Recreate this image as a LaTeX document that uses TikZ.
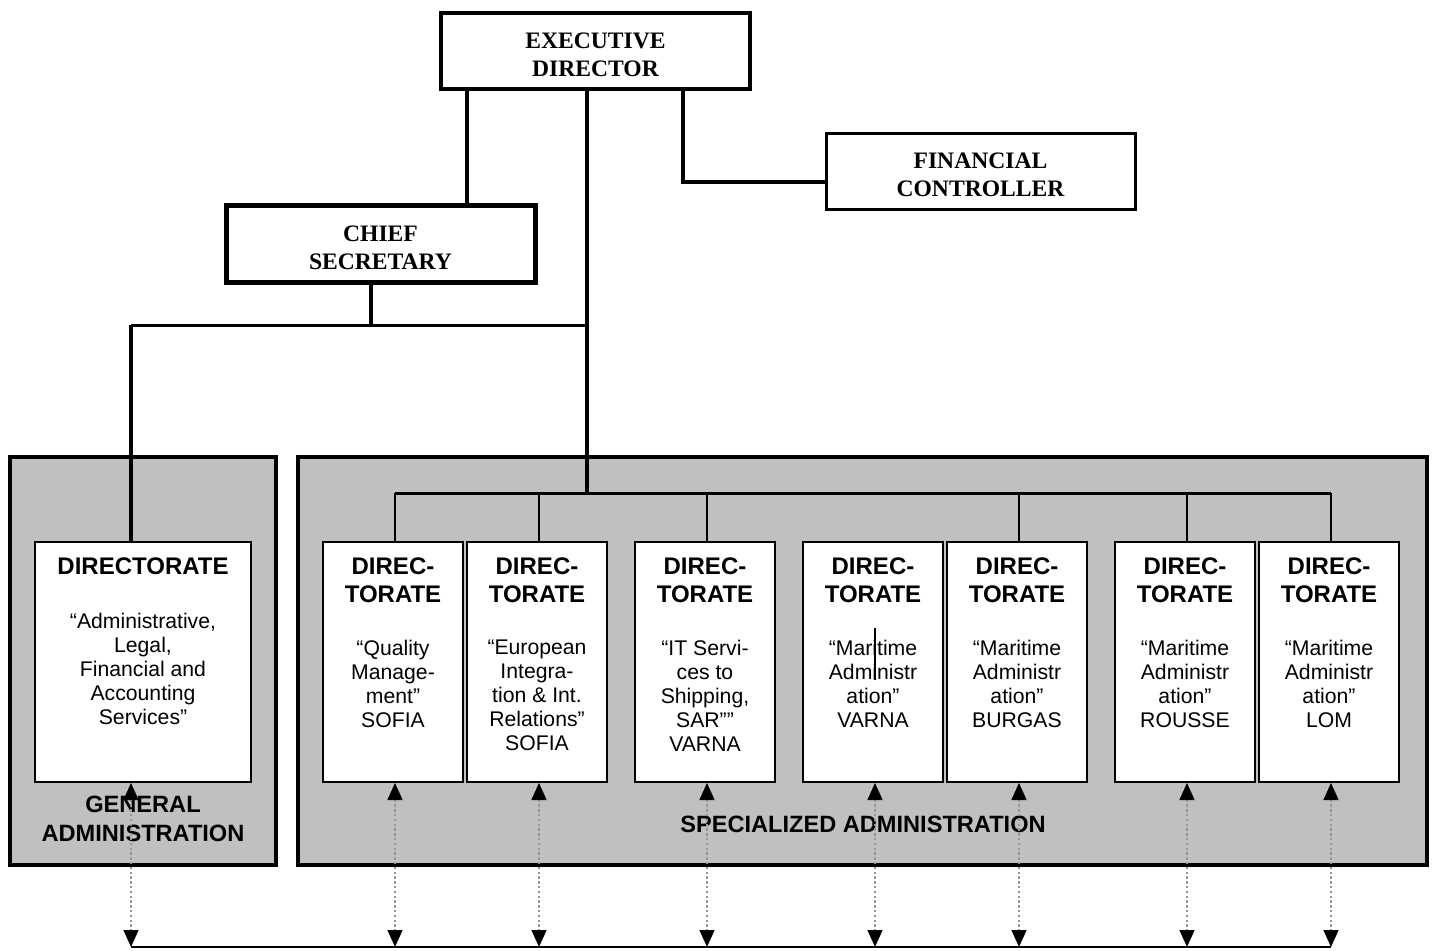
\documentclass[tikz,border=0pt]{standalone}
\usepackage{fontspec}
\setmainfont{Liberation Serif}
\newfontfamily\arialfont{Liberation Sans}
\usetikzlibrary{arrows.meta,calc}
\definecolor{boxgray}{RGB}{192,192,192}
\definecolor{dotgray}{RGB}{150,150,150}
\tikzset{
  topbox/.style={draw=black, fill=white, minimum width=154.5pt, minimum height=38pt, inner sep=0pt},
  toptext/.style={align=center, inner sep=0pt, font=\fontsize{11.8}{14}\selectfont\bfseries},
  graybox/.style={draw=black, fill=boxgray, line width=2.2pt, inner sep=0pt},
  dirbox/.style={draw=black, line width=1pt, fill=white, minimum width=70pt, minimum height=120pt, inner sep=0pt},
  hdr/.style={font=\arialfont\fontsize{12}{14}\selectfont\bfseries, align=center, anchor=north, inner sep=0pt},
  bdy/.style={font=\arialfont\fontsize{10.6}{12}\selectfont, align=center, anchor=north, inner sep=0pt},
  admlabel/.style={font=\arialfont\fontsize{11.8}{14.5}\selectfont\bfseries, align=center, inner sep=0pt},
  thickline/.style={line width=2pt},
  midline/.style={line width=1.5pt},
  dropline/.style={line width=0.8pt},
  dotarrow/.style={draw=dotgray, line width=0.7pt, dash pattern=on 1.2pt off 1.2pt,
    {Triangle[width=7.5pt,length=8.5pt,black]}-{Triangle[width=7.5pt,length=8.5pt,black]}},
}
\begin{document}
\begin{tikzpicture}[x=0.5pt,y=-0.5pt]
\useasboundingbox (0,0) rectangle (1432,950);

% gray administration areas
\node[graybox, minimum width=133pt, minimum height=204pt] (gen) at (143,661) {};
\node[graybox, minimum width=564.5pt, minimum height=204pt] (spec) at (862.5,661) {};
\node[admlabel] (genlbl) at (143,818.5) {GENERAL\\ADMINISTRATION};
\node[admlabel] (speclbl) at (863,824) {SPECIALIZED ADMINISTRATION};

% top boxes
\node[topbox, line width=2pt] (ed) at (595.5,51) {};
\node[topbox, line width=2.5pt, minimum height=38.5pt] (cs) at (380.5,243.5) {};
\node[topbox, line width=1.5pt] (fc) at (980.5,171) {};
\node[toptext] (edt) at ([yshift=-2pt]ed.center) {EXECUTIVE\\DIRECTOR};
\node[toptext] (cst) at ([yshift=-2pt]cs.center) {CHIEF\\SECRETARY};
\node[toptext] (fct) at ([yshift=-2pt]fc.center) {FINANCIAL\\CONTROLLER};

% directorate boxes
\node[dirbox, minimum width=108pt] (gd) at (143,662) {};
\node[dirbox] (q)  at (393,662) {};
\node[dirbox] (eu) at (537,662) {};
\node[dirbox] (it) at (705,662) {};
\node[dirbox] (mv) at (873,662) {};
\node[dirbox] (mb) at (1017,662) {};
\node[dirbox] (mr) at (1185,662) {};
\node[dirbox] (ml) at (1329,662) {};

% headers
\node[hdr] (gdh) at ([yshift=-8.2pt]gd.north) {DIRECTORATE};
\foreach \n in {q,eu,it,mv,mb,mr,ml}{
  \node[hdr] (\n h) at ([yshift=-8.2pt]\n.north) {DIREC-\\TORATE};
}
% bodies
\node[bdy] (gdb) at ([yshift=-35.7pt]gd.north) {“Administrative,\\Legal,\\Financial and\\Accounting\\Services”};
\node[bdy] (qb)  at ([yshift=-49.2pt]q.north)  {“Quality\\Manage-\\ment”\\SOFIA};
\node[bdy] (eub) at ([yshift=-49.2pt]eu.north) {“European\\Integra-\\tion \& Int.\\Relations”\\SOFIA};
\node[bdy] (itb) at ([yshift=-49.2pt]it.north) {“IT Servi-\\ces to\\Shipping,\\SAR””\\VARNA};
\node[bdy] (mvb) at ([yshift=-49.2pt]mv.north) {“Maritime\\Administr\\ation”\\VARNA};
\node[bdy] (mbb) at ([yshift=-49.2pt]mb.north) {“Maritime\\Administr\\ation”\\BURGAS};
\node[bdy] (mrb) at ([yshift=-49.2pt]mr.north) {“Maritime\\Administr\\ation”\\ROUSSE};
\node[bdy] (mlb) at ([yshift=-49.2pt]ml.north) {“Maritime\\Administr\\ation”\\LOM};
% stray vertical mark in the VARNA maritime box
\coordinate (mk1) at (875,628);
\coordinate (mk2) at (875,680);
\draw[line width=0.8pt] (mk1) -- (mk2);

% upper connectors
\coordinate (j) at (587,325);
\coordinate (g) at (131,325);
\coordinate (bar) at (587,493);
\coordinate (barL) at (395,493);
\coordinate (barR) at (1331,493);
\draw[thickline] ([xshift=-64.25pt]ed.south) -- ([xshift=-64.25pt]ed.south |- cs.north);
\draw[thickline] ([xshift=-4.25pt]ed.south) -- (bar);
\draw[line width=1.75pt] ([xshift=43.75pt]ed.south) |- ([yshift=-5.5pt]fc.west);
\draw[thickline] ([xshift=-4.75pt]cs.south) -- ([xshift=-4.75pt]cs.south |- j);
\draw[midline] (g) -- (j);
\draw[thickline] (g) -- ([xshift=-6pt]gd.north);
\draw[midline] (barL) -- (barR);
\foreach \n in {q,eu,it,mb,mr,ml}{
  \draw[dropline] ([xshift=1pt]\n.north) -- ([xshift=1pt]\n.north |- bar);
}

% lower dotted links
\coordinate (botL) at (131,947);
\coordinate (botR) at (1331,947);
\draw[line width=1pt] (botL) -- (botR);
\draw[dotarrow] ([xshift=-6pt]gd.south) -- ([xshift=-6pt]gd.south |- botL);
\foreach \n in {q,eu,it,mv,mb,mr,ml}{
  \draw[dotarrow] ([xshift=1pt]\n.south) -- ([xshift=1pt]\n.south |- botL);
}
\end{tikzpicture}
\end{document}
